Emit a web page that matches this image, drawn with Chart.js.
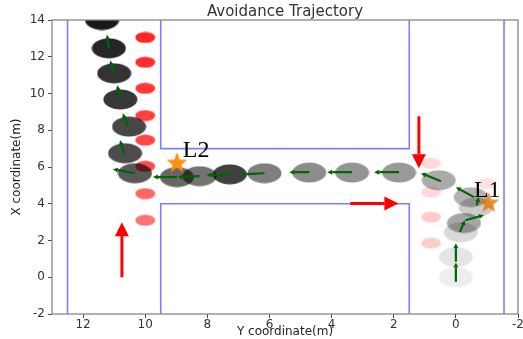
<!DOCTYPE html>
<html>
<head>
<meta charset="utf-8">
<script src="https://cdn.jsdelivr.net/npm/chart.js@4/dist/chart.umd.min.js"></script>
<style>body{margin:0;background:#fff}</style>
</head>
<body>
<canvas id="chartCanvas" width="523" height="339"></canvas>
<script>
// horizontal axis = "Y coordinate", vertical axis = "X coordinate"
var trajY = [0, 0, -0.16, -0.26, -0.64, -0.48, 0.55, 1.83, 3.34, 4.72, 6.16, 7.28, 8.25, 8.98, 10.33, 10.65, 10.52, 10.8, 11.0, 11.17, 11.39];
var trajX = [0, 1.1, 2.45, 2.95, 3.8, 4.36, 5.28, 5.7, 5.7, 5.7, 5.66, 5.6, 5.5, 5.45, 5.66, 6.75, 8.2, 9.68, 11.1, 12.46, 14.0];
var trajAlpha = [0.07, 0.1, 0.15, 0.35, 0.2, 0.3, 0.33, 0.4, 0.42, 0.45, 0.5, 0.75, 0.55, 0.6, 0.65, 0.7, 0.72, 0.78, 0.8, 0.85, 0.9];

// heading arrows (tail -> tip)
var headY0 = [0, 0, -0.13, -0.31, -0.67, -0.58, 0.48, 1.83, 3.34, 4.72, 6.16, 7.28, 8.25, 8.98, 10.33, 10.68, 10.56, 10.81, 11.0, 11.17];
var headX0 = [-0.25, 0.85, 2.47, 3.1, 3.92, 4.36, 5.23, 5.72, 5.72, 5.72, 5.66, 5.6, 5.5, 5.45, 5.66, 6.75, 8.2, 9.68, 11.1, 12.46];
var headY1 = [0, 0, -0.29, -0.9, -0.74, 0, 1.12, 2.63, 4.14, 5.36, 6.9, 8.02, 8.95, 9.75, 11.04, 10.81, 10.72, 10.9, 11.13, 11.23];
var headX1 = [0.8, 1.85, 3.1, 3.38, 4.37, 4.9, 5.66, 5.72, 5.72, 5.72, 5.6, 5.55, 5.45, 5.45, 5.88, 7.46, 8.92, 10.45, 11.8, 13.2];

// obstacles
var obsY = [10, 10, 10, 10, 10, 10, 10, 10, 0.8, 0.8, 0.8, 0.8, -1.0];
var obsX = [13.05, 11.7, 10.28, 8.8, 7.46, 6.04, 4.55, 3.1, 6.2, 4.63, 3.27, 1.86, 5.1];
var obsAlpha = [0.85, 0.82, 0.78, 0.75, 0.72, 0.7, 0.6, 0.55, 0.15, 0.15, 0.2, 0.2, 0.12];

// corridor walls
var wallLeftY = [12.5, 12.5], wallLeftX = [-2, 14];
var wallRightY = [-1.55, -1.55], wallRightX = [-2, 14];
var wallTopY = [9.5, 9.5, 1.5, 1.5], wallTopX = [14, 7, 7, 14];
var wallLowY = [9.5, 9.5, 1.5, 1.5], wallLowX = [-2, 4, 4, -2];

// landmarks
var markNames = ['L2', 'L1'];
var markY = [8.98, -1.06];
var markX = [6.2, 4.03];
var labelY = [8.79, -0.58];
var labelX = [6.53, 4.36];

// red direction arrows
var dirY0 = [10.75, 3.4, 1.19], dirX0 = [0, 4.02, 8.76];
var dirY1 = [10.75, 1.85, 1.19], dirX1 = [3.0, 4.02, 5.93];

var xTicks = [12, 10, 8, 6, 4, 2, 0, -2];
var yTicks = [-2, 0, 2, 4, 6, 8, 10, 12, 14];

function pts(h, v) {
	var out = [];
	for (var i in h) out.push({x: h[i], y: v[i]});
	return out;
}

function ellipse(w, h, fill) {
	var c = document.createElement('canvas');
	c.width = w; c.height = h;
	var g = c.getContext('2d');
	g.fillStyle = fill;
	g.beginPath();
	g.ellipse(w / 2, h / 2, w / 2 - 0.5, h / 2 - 0.5, 0, 0, Math.PI * 2);
	g.fill();
	return c;
}

function star(r, fill) {
	var c = document.createElement('canvas');
	c.width = c.height = r * 2 + 2;
	var g = c.getContext('2d');
	g.fillStyle = fill;
	g.beginPath();
	for (var i = 0; i < 10; i++) {
		var rr = i % 2 ? r * 0.42 : r;
		var a = -Math.PI / 2 + i * Math.PI / 5;
		g.lineTo(r + 1 + rr * Math.cos(a), r + 1 + rr * Math.sin(a));
	}
	g.closePath();
	g.fill();
	return c;
}

var robotStyles = trajAlpha.map(function(a){ return ellipse(35, 21, 'rgba(0,0,0,' + a + ')'); });
var obsStyles = obsAlpha.map(function(a){ return ellipse(21, 12, 'rgba(255,0,0,' + a + ')'); });
var starStyles = [star(11, 'rgba(255,140,0,0.95)'), star(11, 'rgba(230,120,0,0.8)')];

function arrow(ctx, xs, ys, x0, y0, x1, y1, color, lw, hl, hw) {
	var px0 = xs.getPixelForValue(x0), py0 = ys.getPixelForValue(y0);
	var px1 = xs.getPixelForValue(x1), py1 = ys.getPixelForValue(y1);
	var a = Math.atan2(py1 - py0, px1 - px0);
	var bx = px1 - hl * Math.cos(a), by = py1 - hl * Math.sin(a);
	ctx.strokeStyle = color;
	ctx.fillStyle = color;
	ctx.lineWidth = lw;
	ctx.beginPath();
	ctx.moveTo(px0, py0);
	ctx.lineTo(bx, by);
	ctx.stroke();
	ctx.beginPath();
	ctx.moveTo(px1, py1);
	ctx.lineTo(bx + hw / 2 * Math.sin(a), by - hw / 2 * Math.cos(a));
	ctx.lineTo(bx - hw / 2 * Math.sin(a), by + hw / 2 * Math.cos(a));
	ctx.closePath();
	ctx.fill();
}

var extras = {
	id: 'extras',
	afterDatasetsDraw: function(chart) {
		var ctx = chart.ctx, xs = chart.scales.x, ys = chart.scales.y, area = chart.chartArea;
		ctx.save();
		ctx.beginPath();
		ctx.rect(area.left, area.top, area.right - area.left, area.bottom - area.top);
		ctx.clip();
		for (var i in headY0) {
			arrow(ctx, xs, ys, headY0[i], headX0[i], headY1[i], headX1[i], '#006400', 2.2, 5, 5);
		}
		for (var j in dirY0) {
			arrow(ctx, xs, ys, dirY0[j], dirX0[j], dirY1[j], dirX1[j], '#ff0000', 3, 14, 14);
		}
		ctx.fillStyle = '#000';
		ctx.font = '24px "Liberation Serif"';
		ctx.textAlign = 'left';
		ctx.textBaseline = 'alphabetic';
		for (var k in markNames) {
			ctx.fillText(markNames[k], xs.getPixelForValue(labelY[k]), ys.getPixelForValue(labelX[k]));
		}
		ctx.restore();

		// frame
		ctx.save();
		ctx.strokeStyle = '#888';
		ctx.lineWidth = 1.3;
		ctx.strokeRect(area.left, area.top, area.right - area.left, area.bottom - area.top);
		ctx.fillStyle = '#333';
		ctx.font = '15px "DejaVu Sans"';
		ctx.textAlign = 'center';
		ctx.textBaseline = 'middle';
		ctx.fillText('Avoidance Trajectory', (area.left + area.right) / 2, 12);
		ctx.restore();
	}
};

var wallStyle = {showLine: true, borderColor: 'rgba(40,40,255,0.6)', borderWidth: 1.6, pointRadius: 0, fill: false, tension: 0, clip: 0};

var ctx = document.getElementById('chartCanvas');
var chart = new Chart(ctx, {
	type: 'scatter',
	data: {
		datasets: [
			{data: pts(markY, markX), pointStyle: starStyles, clip: 0},
			{data: pts(trajY, trajX), pointStyle: robotStyles, clip: 0},
			{data: pts(obsY, obsX), pointStyle: obsStyles, clip: 0},
			Object.assign({data: pts(wallLeftY, wallLeftX)}, wallStyle),
			Object.assign({data: pts(wallRightY, wallRightX)}, wallStyle),
			Object.assign({data: pts(wallTopY, wallTopX)}, wallStyle),
			Object.assign({data: pts(wallLowY, wallLowX)}, wallStyle)
		]
	},
	options: {
		responsive: false,
		animation: false,
		layout: {padding: {left: 7, right: 2, top: 20, bottom: 0}},
		plugins: {legend: {display: false}, tooltip: {enabled: false}},
		scales: {
			x: {
				type: 'linear', min: -2, max: 13, reverse: true,
				afterBuildTicks: function(s){ s.ticks = xTicks.map(function(v){ return {value: v}; }); },
				ticks: {color: '#333', padding: 0, maxRotation: 0, autoSkip: false, font: {family: 'DejaVu Sans', size: 12}},
				grid: {drawOnChartArea: false, tickLength: 4, color: '#444'},
				border: {display: false},
				title: {display: true, text: 'Y coordinate(m)', color: '#222', padding: {top: 0, bottom: 0}, font: {family: 'DejaVu Sans', size: 12}},
				afterFit: function(s){ s.height = 25; s.paddingLeft = 0; s.paddingRight = 0; }
			},
			y: {
				type: 'linear', min: -2, max: 14,
				afterBuildTicks: function(s){ s.ticks = yTicks.map(function(v){ return {value: v}; }); },
				ticks: {color: '#333', padding: 3, font: {family: 'DejaVu Sans', size: 12}},
				grid: {drawOnChartArea: false, tickLength: 4, color: '#444'},
				border: {display: false},
				title: {display: true, text: 'X coordinate(m)', color: '#222', padding: {top: 3, bottom: 0}, font: {family: 'DejaVu Sans', size: 12}},
				afterFit: function(s){ s.width = 45; s.paddingTop = 0; s.paddingBottom = 0; }
			}
		}
	},
	plugins: [extras]
});
</script>
</body>
</html>
